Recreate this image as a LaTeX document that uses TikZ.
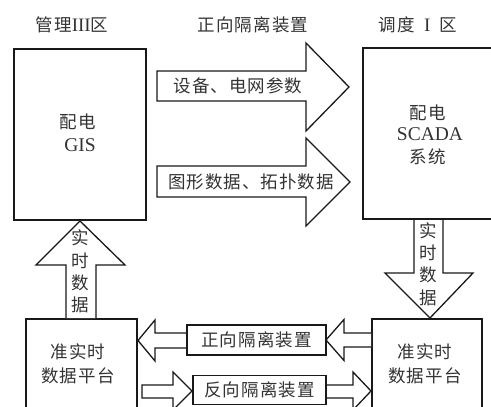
\documentclass[tikz,border=0pt]{standalone}
\usepackage{fontspec}
\setmainfont{Liberation Serif}
\newfontfamily\cjk[LetterSpace=6]{Noto Sans CJK SC}
\begin{document}
\begin{tikzpicture}[x=1pt,y=-1pt,
  box/.style={draw=black!90, line width=2pt, inner sep=0pt},
  fat/.style={draw=black!90, line width=1.3pt, fill=white, line join=miter},
  lab/.style={draw=black!90, line width=1.8pt, fill=white, inner sep=0pt},
  txt/.style={font=\fontsize{17.5}{23}\cjk, text=black!80, inner sep=0pt, align=center},
  lat/.style={font=\fontsize{19.5}{23}\selectfont, text=black!80, inner sep=0pt},
  vtxt/.style={font=\fontsize{17.5}{22.3}\cjk, text=black!80, inner sep=0pt, align=center}]
\useasboundingbox (0,0) rectangle (491,407);
% boxes
\node[box, minimum width=132pt, minimum height=171pt] (gis) at (80,134.5) {};
\node[box, minimum width=137pt, minimum height=171pt] (scada) at (431.5,133.5) {};
\node[box, minimum width=111pt, minimum height=101pt] (bl) at (81.5,369.5) {};
\node[box, minimum width=110pt, minimum height=101pt] (br) at (427,369.5) {};
% headers
\node[txt] (h1) at (72,25) {管理{\rmfamily\fontsize{19}{20}\selectfont III}区};
\node[txt] (h2) at (253,25) {正向隔离装置};
\node[txt] (h3) at (418,25) {调度{\rmfamily\fontsize{19}{20}\selectfont\ \ I\ \ }区};
% box texts
\node[txt] (g1) at (78,122) {配电};
\node[lat] (g2) at (80,145) {GIS};
\node[txt] (s1) at (428,113) {配电};
\node[lat] (s2) at (430,134) {SCADA};
\node[txt] (s3) at (428,157) {系统};
\node[txt] (b1) at (78,352) {准实时};
\node[txt] (b2) at (78,376) {数据平台};
\node[txt] (r1) at (425,352) {准实时};
\node[txt] (r2) at (425,376) {数据平台};
% top arrows
\draw[fat] (157,71) -- (306,71) -- (306,43) -- (349,87) -- (306,131) -- (306,101) -- (157,101) -- cycle;
\node[txt] (a1) at (238,86) {设备、电网参数};
\draw[fat] (157,166) -- (306,166) -- (306,138) -- (350,182) -- (306,226) -- (306,197) -- (157,197) -- cycle;
\node[txt] (a2) at (251,182) {图形数据、拓扑数据};
% vertical arrows
\draw[fat] (66,318) -- (66,265) -- (36,265) -- (80,221) -- (125,265) -- (96,265) -- (96,318);
\node[vtxt] (v1) at (80,271.5) {实\\时\\数\\据};
\draw[fat] (414,220) -- (414,273) -- (385,273) -- (430,318) -- (473,273) -- (443,273) -- (443,220);
\node[vtxt] (v2) at (428,264) {实\\时\\数\\据};
% bottom left-pointing arrow
\draw[fat] (371,333) -- (344,333) -- (344,319.5) -- (326,340) -- (344,360.5) -- (344,347) -- (371,347);
\draw[fat] (188,333) -- (155,333) -- (155,320) -- (138,340.5) -- (155,361) -- (155,348) -- (188,348);
\node[lab, minimum width=139pt, minimum height=30pt] (f1) at (256.5,340) {};
\node[txt] at (f1.center) {正向隔离装置};
% bottom right-pointing arrow
\draw[fat] (142,385) -- (173,385) -- (173,372) -- (192,391) -- (173,410) -- (173,398) -- (142,398) -- cycle;
\draw[fat] (326,385) -- (353,385) -- (353,372) -- (371,391) -- (353,410) -- (353,398) -- (326,398);
\node[lab, minimum width=133pt, minimum height=29pt] (f2) at (259.5,390) {};
\node[txt] at (f2.center) {反向隔离装置};
\end{tikzpicture}
\end{document}
